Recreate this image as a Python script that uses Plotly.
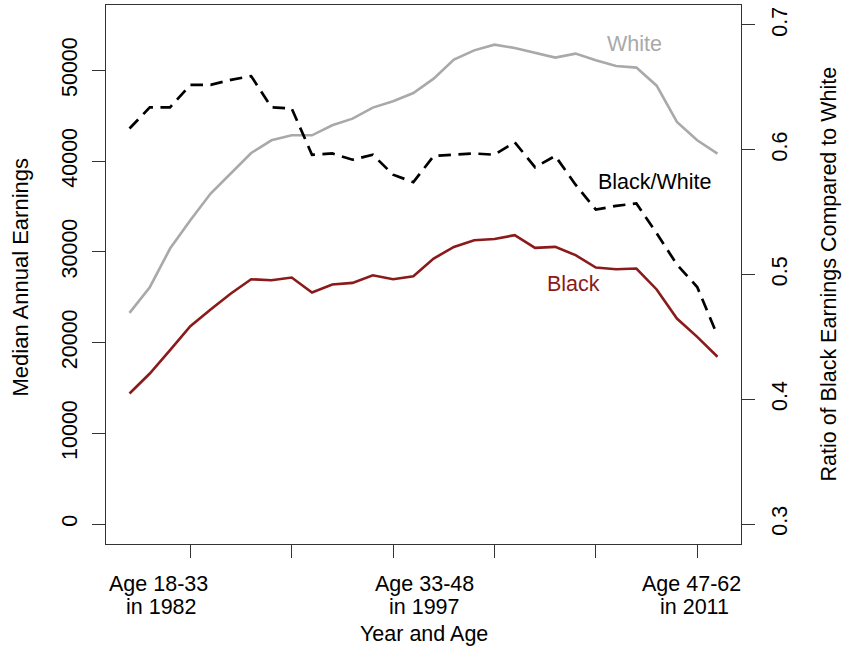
import plotly.graph_objects as go

# x positions (survey index)
x_idx = list(range(1, 31))

white = [23270, 26100, 30360, 33480, 36420, 38620, 40890, 42290, 42840, 42840,
         43940, 44680, 45890, 46590, 47500, 49080, 51180, 52200, 52830, 52460,
         51950, 51400, 51840, 51100, 50480, 50300, 48310, 44310, 42290, 40830]

black = [14390, 16590, 19160, 21810, 23640, 25400, 26980, 26870, 27170, 25510,
         26400, 26580, 27420, 26980, 27310, 29260, 30540, 31280, 31420, 31830,
         30430, 30540, 29630, 28270, 28080, 28160, 25850, 22650, 20630, 18430]

ratio = [0.617, 0.634, 0.634, 0.652, 0.652, 0.656, 0.659, 0.634, 0.633, 0.596,
         0.597, 0.592, 0.596, 0.580, 0.574, 0.595, 0.596, 0.597, 0.596, 0.606,
         0.586, 0.595, 0.572, 0.552, 0.555, 0.557, 0.533, 0.508, 0.490, 0.451]

left_ticks = [0, 10000, 20000, 30000, 40000, 50000]
right_ticks = [0.3, 0.4, 0.5, 0.6, 0.7]
x_ticks = [4, 9, 14, 19, 24, 29]
x_label_pos = [2.42, 15.53, 28.7]
x_label_line1 = ["Age 18-33", "Age 33-48", "Age 47-62"]
x_label_line2 = ["in 1982", "in 1997", "in 2011"]
x_label_line2_pos = [2.6, 15.53, 28.85]

FONT = "Liberation Sans, Arial, Helvetica, sans-serif"
FS = 21.5
GRAY = "#A9A9A9"
RED = "#8B1A1A"

fig = go.Figure()
fig.add_trace(go.Scatter(x=x_idx, y=white, mode="lines",
                         line=dict(color=GRAY, width=2.6), yaxis="y"))
fig.add_trace(go.Scatter(x=x_idx, y=black, mode="lines",
                         line=dict(color=RED, width=2.6), yaxis="y"))
fig.add_trace(go.Scatter(x=x_idx, y=ratio, mode="lines",
                         line=dict(color="black", width=2.7, dash="12.5px,7.5px"),
                         yaxis="y2"))

axis_common = dict(showgrid=False, zeroline=False, ticks="outside", ticklen=13,
                   tickwidth=1, tickcolor="#333333", automargin=False,
                   tickfont=dict(family=FONT, size=FS, color="black"))

fig.update_layout(
    width=843, height=649,
    margin=dict(l=106, r=102, t=5, b=105, pad=0, autoexpand=False),
    paper_bgcolor="white", plot_bgcolor="white",
    showlegend=False,
    xaxis=dict(range=[-0.16, 31.16], tickvals=x_ticks, ticktext=[""] * len(x_ticks),
               showline=True, linecolor="#333333", linewidth=1, mirror=True,
               **axis_common),
    yaxis=dict(range=[-2200, 57200], tickvals=left_ticks,
               ticktext=[str(v) for v in left_ticks], tickangle=-90,
               showline=True, linecolor="#333333", linewidth=1,
               ticklabelstandoff=6, **axis_common),
    yaxis2=dict(range=[0.284, 0.716], tickvals=right_ticks,
                ticktext=[f"{v:.1f}" for v in right_ticks], tickangle=-90,
                overlaying="y", side="right", showline=True, linecolor="#333333",
                linewidth=1, ticklabelstandoff=6, **axis_common),
)

ann = []
for xp, t in zip(x_label_pos, x_label_line1):
    ann.append(dict(x=xp, xref="x", y=0, yref="paper", text=t, showarrow=False,
                    xanchor="center", yanchor="middle", yshift=-40,
                    font=dict(family=FONT, size=FS, color="black")))
for xp, t in zip(x_label_line2_pos, x_label_line2):
    ann.append(dict(x=xp, xref="x", y=0, yref="paper", text=t, showarrow=False,
                    xanchor="center", yanchor="middle", yshift=-63,
                    font=dict(family=FONT, size=FS, color="black")))
ann.append(dict(x=0.5, xref="paper", y=0, yref="paper", text="Year and Age",
                showarrow=False, xanchor="center", yanchor="middle", yshift=-90,
                font=dict(family=FONT, size=FS, color="black")))
ann.append(dict(x=0, xref="paper", y=0.5, yref="paper", text="Median Annual Earnings",
                showarrow=False, xanchor="center", yanchor="middle", xshift=-86,
                yshift=-3, textangle=-90, font=dict(family=FONT, size=22, color="black")))
ann.append(dict(x=1, xref="paper", y=0.5, yref="paper",
                text="Ratio of Black Earnings Compared to White",
                showarrow=False, xanchor="center", yanchor="middle", xshift=87,
                textangle=-90, font=dict(family=FONT, size=FS, color="black")))
# series labels
ann.append(dict(x=25.9, xref="x", y=52860, yref="y", text="White", showarrow=False,
                xanchor="center", yanchor="middle",
                font=dict(family=FONT, size=FS, color=GRAY)))
ann.append(dict(x=26.9, xref="x", y=0.574, yref="y2", text="Black/White",
                showarrow=False, xanchor="center", yanchor="middle",
                font=dict(family=FONT, size=FS, color="black")))
ann.append(dict(x=22.92, xref="x", y=26430, yref="y", text="Black", showarrow=False,
                xanchor="center", yanchor="middle",
                font=dict(family=FONT, size=FS, color=RED)))
fig.update_layout(annotations=ann)

fig.write_html("out.html", config={"displayModeBar": False},
               post_script="document.body.style.margin='0';document.body.style.overflow='hidden';")
